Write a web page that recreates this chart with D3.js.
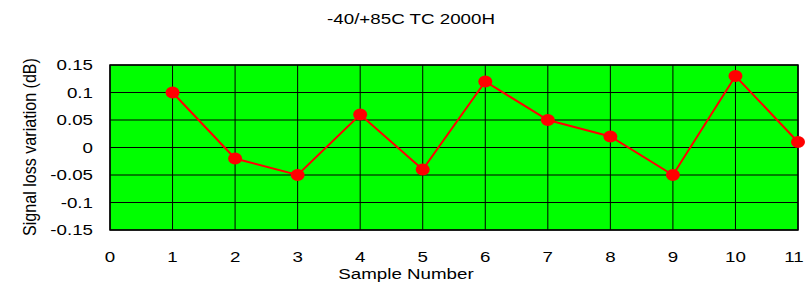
<!DOCTYPE html>
<html>
<head>
<meta charset="utf-8">
<script src="https://cdn.jsdelivr.net/npm/d3@7"></script>
<style>
  body { margin: 0; background: #fff; }
  text { font-family: "Liberation Sans", Arial, sans-serif; fill: #000; }
</style>
</head>
<body>
<div id="chart"></div>
<script>
// data
var samples = [1, 2, 3, 4, 5, 6, 7, 8, 9, 10, 11];
var lossValues = [0.1, -0.02, -0.05, 0.06, -0.04, 0.12, 0.05, 0.02, -0.05, 0.13, 0.01];
var xTicks = [0, 1, 2, 3, 4, 5, 6, 7, 8, 9, 10, 11];
var yTicks = [-0.15, -0.1, -0.05, 0, 0.05, 0.1, 0.15];
var chartTitle = "-40/+85C TC 2000H";

var width = 806, height = 285;
var margin = {top: 65, right: 8, bottom: 55, left: 110};
var stretch = 1.25; // text in the picture is wider than normal

var svg = d3.select("#chart").append("svg")
    .attr("width", width)
    .attr("height", height);

var x = d3.scaleLinear().domain([0, 11]).range([margin.left, width - margin.right]);
var y = d3.scaleLinear().domain([-0.15, 0.15]).range([height - margin.bottom, margin.top]);

// plot background
svg.append("rect")
    .attr("x", x(0)).attr("y", y(0.15))
    .attr("width", x(11) - x(0)).attr("height", y(-0.15) - y(0.15))
    .attr("fill", "#00ff00");

// grid
svg.selectAll(".vgrid").data(xTicks).enter().append("line")
    .attr("x1", d => x(d)).attr("x2", d => x(d))
    .attr("y1", y(0.15)).attr("y2", y(-0.15))
    .attr("stroke", "#000").attr("stroke-width", 1);
svg.selectAll(".hgrid").data(yTicks).enter().append("line")
    .attr("x1", x(0)).attr("x2", x(11))
    .attr("y1", d => y(d)).attr("y2", d => y(d))
    .attr("stroke", "#000").attr("stroke-width", 1);

svg.append("rect")
    .attr("x", x(0)).attr("y", y(0.15))
    .attr("width", x(11) - x(0)).attr("height", y(-0.15) - y(0.15))
    .attr("fill", "none").attr("stroke", "#000").attr("stroke-width", 1.5);

// tick labels
svg.selectAll(".ylab").data(yTicks).enter().append("text")
    .attr("transform", d => `translate(${x(0) - 17},${y(d) + 5}) scale(${stretch},1)`)
    .attr("text-anchor", "end")
    .style("font-size", "15px")
    .text(d => d);

svg.selectAll(".xlab").data(xTicks).enter().append("text")
    .attr("transform", d => `translate(${Math.min(x(d), width - 12)},${y(-0.15) + 32}) scale(${stretch},1)`)
    .attr("text-anchor", "middle")
    .style("font-size", "15px")
    .text(d => d);

// titles
svg.append("text")
    .attr("transform", `translate(411,24) scale(${stretch},1)`)
    .attr("text-anchor", "middle")
    .style("font-size", "15px")
    .text(chartTitle);

svg.append("text")
    .attr("transform", `translate(406,279) scale(${stretch},1)`)
    .attr("text-anchor", "middle")
    .style("font-size", "15px")
    .text("Sample Number");

svg.append("text")
    .attr("transform", `translate(36,147) rotate(-90) scale(1.15,1.25)`)
    .attr("text-anchor", "middle")
    .style("font-size", "14px")
    .text("Signal loss variation (dB)");

// series
var line = d3.line()
    .x((d, i) => x(samples[i]))
    .y(d => y(d));

svg.append("path")
    .datum(lossValues)
    .attr("d", line)
    .attr("fill", "none")
    .attr("stroke", "#ff0000")
    .attr("stroke-width", 2);

svg.selectAll(".dot").data(lossValues).enter().append("ellipse")
    .attr("cx", (d, i) => x(samples[i]))
    .attr("cy", d => y(d))
    .attr("rx", 7).attr("ry", 6)
    .attr("fill", "#ff0000");
</script>
</body>
</html>
